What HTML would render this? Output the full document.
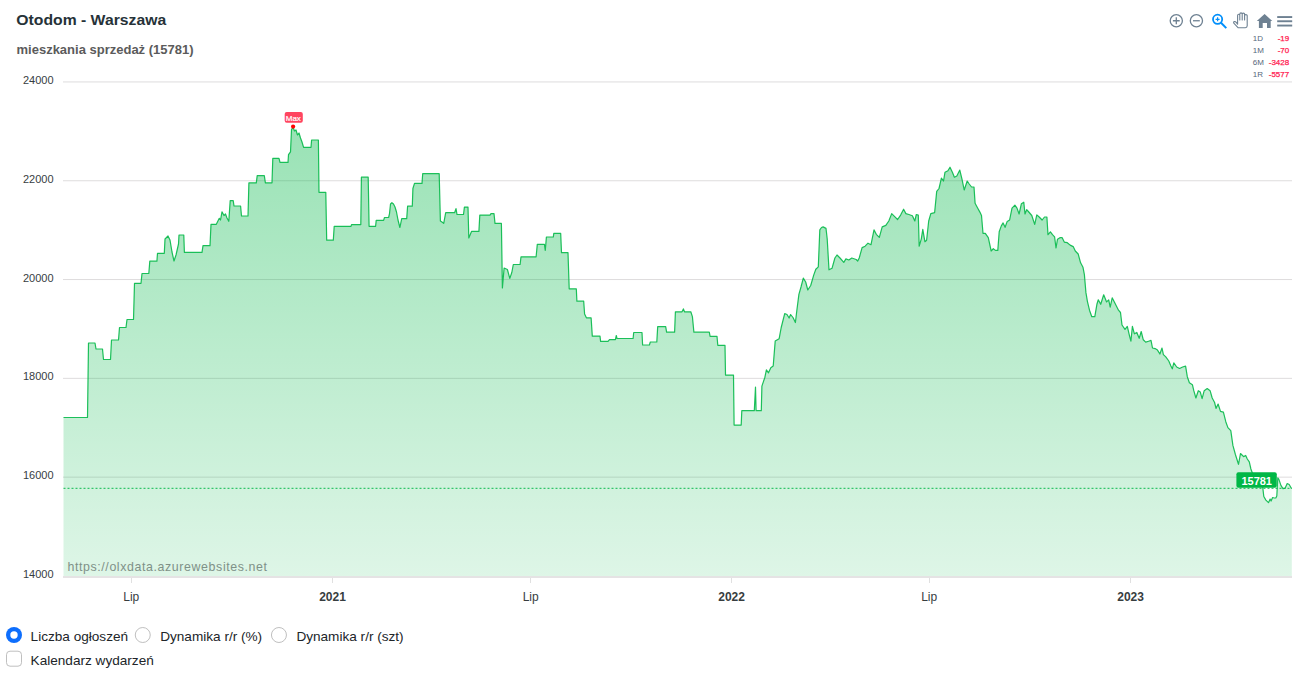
<!DOCTYPE html>
<html><head><meta charset="utf-8">
<style>
html,body{margin:0;padding:0;background:#fff;}
body{width:1306px;height:676px;position:relative;overflow:hidden;font-family:"Liberation Sans",sans-serif;}
svg text{font-family:"Liberation Sans",sans-serif;}
.title{font-size:14px;font-weight:bold;fill:#263238;letter-spacing:0px;}
.sub{font-size:13px;font-weight:bold;fill:#5b5b5b;letter-spacing:0px;}
.yl{font-size:11px;fill:#373d3f;}
.xr{font-size:12px;fill:#373d3f;}
.xb{font-size:12px;font-weight:bold;fill:#373d3f;}
.wm{font-size:12.4px;fill:#7f9188;letter-spacing:0.6px;}
.maxl{font-size:8px;fill:#fff;stroke:#fff;stroke-width:0.2px;}
.lab{font-size:11px;font-weight:bold;fill:#fff;}
.stl{font-size:8px;fill:#56677a;}
.stv{font-size:8px;fill:#ff2050;stroke:#ff2050;stroke-width:0.25px;}
.ctl{font-size:13.6px;fill:#212529;}
</style></head><body>
<svg width="1306" height="620" viewBox="0 0 1306 620" style="position:absolute;left:0;top:0">
<defs>
<linearGradient id="g" x1="0" y1="127" x2="0" y2="576.5" gradientUnits="userSpaceOnUse">
<stop offset="0" stop-color="#00b746" stop-opacity="0.40"/>
<stop offset="1" stop-color="#00b746" stop-opacity="0.13"/>
</linearGradient>
</defs>
<text transform="translate(16.3,25) scale(1.125,1)" class="title">Otodom - Warszawa</text>
<text x="16.5" y="54" class="sub">mieszkania sprzedaż (15781)</text>
<line x1="63" x2="1292" y1="81.95" y2="81.95" stroke="#dedcdd" stroke-width="1"/>
<line x1="63" x2="1292" y1="180.75" y2="180.75" stroke="#dedcdd" stroke-width="1"/>
<line x1="63" x2="1292" y1="279.55" y2="279.55" stroke="#dedcdd" stroke-width="1"/>
<line x1="63" x2="1292" y1="378.35" y2="378.35" stroke="#dedcdd" stroke-width="1"/>
<line x1="63" x2="1292" y1="477.15" y2="477.15" stroke="#dedcdd" stroke-width="1"/>

<path d="M63.5,417.5 L87.5,417.5 L88.5,343.0 L95.0,343.0 L96.0,349.0 L102.5,349.0 L103.5,359.5 L110.5,359.5 L111.5,340.0 L118.5,340.0 L119.5,327.5 L126.0,327.5 L127.0,319.5 L133.5,319.5 L134.5,283.3 L141.0,283.3 L142.0,273.5 L148.8,273.5 L149.8,261.2 L156.9,261.2 L157.5,253.3 L164.3,253.3 L165.0,239.0 L168.0,236.0 L170.0,240.0 L172.0,252.0 L174.0,261.0 L176.0,255.0 L178.5,244.0 L179.0,235.0 L183.8,235.0 L184.4,252.4 L202.0,252.4 L203.0,245.6 L210.0,245.6 L211.0,224.3 L216.3,224.3 L219.3,218.3 L220.5,220.0 L222.0,211.8 L224.0,215.5 L225.5,214.0 L227.0,218.0 L228.8,221.3 L230.2,200.6 L233.2,200.6 L234.0,206.0 L240.6,206.0 L241.5,216.0 L248.0,216.0 L248.9,182.8 L256.3,182.8 L257.2,175.7 L264.3,175.7 L265.4,182.8 L272.0,182.8 L272.8,158.3 L279.0,158.3 L280.0,162.4 L288.0,162.4 L288.5,154.7 L290.5,151.8 L291.5,129.6 L293.0,127.0 L294.5,131.0 L296.0,130.0 L297.5,135.0 L299.0,133.0 L300.5,138.0 L302.0,142.0 L303.6,147.3 L311.0,147.3 L311.6,140.0 L318.4,140.0 L319.0,192.3 L325.8,192.3 L326.7,240.2 L333.3,240.2 L334.2,226.3 L351.0,226.3 L351.5,224.6 L360.8,224.6 L361.4,177.2 L368.2,177.2 L369.1,226.3 L375.6,226.3 L376.2,220.4 L383.6,220.4 L384.5,217.5 L388.6,217.5 L389.5,213.6 L390.5,204.0 L391.9,202.7 L393.5,204.0 L395.0,207.0 L396.5,212.0 L398.0,220.0 L399.9,227.5 L401.7,218.6 L406.7,218.6 L407.6,206.2 L412.3,206.2 L412.9,188.5 L414.5,183.4 L422.0,183.4 L422.7,173.7 L439.2,173.7 L440.4,221.0 L442.0,222.0 L443.7,223.4 L445.7,212.7 L454.6,212.7 L456.0,208.6 L457.0,214.5 L463.5,214.5 L464.4,207.1 L468.0,207.1 L468.8,237.9 L471.5,231.4 L478.9,231.4 L479.8,215.1 L490.0,215.1 L491.0,213.6 L494.0,213.6 L495.0,223.4 L501.4,223.4 L502.4,287.9 L504.1,268.0 L507.4,269.5 L509.8,278.4 L511.8,272.5 L513.3,264.5 L520.1,264.5 L521.0,256.8 L536.1,256.8 L537.3,244.4 L544.4,244.4 L545.3,250.3 L546.4,237.0 L553.3,237.0 L553.8,233.4 L560.7,233.4 L561.5,252.7 L568.0,252.7 L569.2,288.8 L576.3,288.8 L576.9,301.2 L583.7,301.2 L584.6,313.9 L586.4,317.8 L591.1,317.8 L592.3,336.1 L600.0,336.1 L600.6,341.4 L608.0,341.4 L609.5,339.6 L615.4,339.6 L616.3,335.5 L617.0,338.5 L633.1,338.5 L633.7,332.5 L642.0,332.5 L642.6,345.0 L649.4,345.0 L650.3,342.0 L656.8,342.0 L657.7,326.6 L665.7,326.6 L666.6,332.2 L674.6,332.2 L675.4,311.8 L682.0,311.8 L683.4,308.9 L684.5,311.8 L690.8,311.8 L692.4,316.6 L693.9,332.2 L709.3,332.2 L710.1,336.4 L717.0,336.4 L717.8,345.3 L725.0,345.3 L725.5,375.1 L733.5,375.1 L734.1,425.1 L741.2,425.1 L741.8,410.7 L754.3,410.7 L755.5,387.1 L756.1,410.7 L761.3,410.7 L761.9,386.1 L764.9,377.2 L766.4,369.8 L768.5,372.8 L770.8,367.8 L773.2,366.0 L775.2,341.1 L779.1,338.8 L781.2,327.5 L784.7,313.6 L787.0,314.5 L789.1,318.0 L790.6,314.5 L793.0,317.5 L795.4,322.5 L796.8,310.7 L798.9,294.4 L801.0,287.0 L803.3,278.1 L805.7,282.0 L807.8,290.0 L810.7,285.5 L813.7,275.1 L815.8,269.2 L818.3,266.9 L819.8,229.9 L821.5,227.5 L823.1,226.9 L826.0,228.4 L827.2,238.8 L829.0,269.8 L832.0,268.3 L834.9,258.0 L837.0,255.0 L840.0,258.0 L843.8,262.4 L845.9,258.9 L848.8,260.0 L851.8,258.0 L856.2,259.5 L857.7,261.0 L859.2,258.0 L862.1,247.6 L865.1,246.2 L868.0,243.2 L871.0,244.7 L874.0,229.9 L876.3,234.3 L879.3,237.3 L882.2,226.9 L885.8,225.4 L888.8,221.0 L891.7,213.6 L894.7,216.6 L897.6,219.5 L900.6,215.1 L903.6,209.2 L905.9,213.6 L908.9,214.5 L912.4,215.7 L914.8,221.0 L916.3,214.5 L918.3,215.1 L919.2,246.2 L921.3,238.8 L922.8,229.3 L924.9,241.7 L926.6,240.2 L928.7,221.0 L930.8,213.6 L934.6,212.7 L936.7,191.4 L939.0,188.5 L941.4,178.1 L943.5,181.0 L945.0,172.2 L947.9,170.7 L950.0,167.2 L952.4,172.2 L954.4,177.2 L956.8,176.0 L959.8,170.1 L962.1,179.6 L964.2,190.0 L967.2,181.0 L969.2,184.0 L971.6,187.0 L974.0,187.0 L975.1,203.3 L977.5,207.7 L979.9,212.1 L981.5,215.5 L983.0,233.3 L985.3,233.3 L988.3,237.7 L991.2,251.0 L993.3,248.6 L995.4,250.4 L997.8,250.4 L999.2,231.8 L1001.3,225.9 L1003.1,222.9 L1005.1,227.3 L1007.2,221.4 L1009.6,220.0 L1012.0,208.1 L1014.9,205.1 L1017.0,208.1 L1019.1,214.0 L1021.4,203.7 L1023.8,202.2 L1025.0,214.0 L1026.7,209.6 L1028.8,212.0 L1031.8,215.5 L1034.7,224.4 L1036.8,214.9 L1039.2,217.0 L1042.1,220.0 L1044.5,217.0 L1046.9,217.0 L1048.0,234.7 L1050.4,231.8 L1052.5,234.7 L1054.6,236.8 L1056.0,248.0 L1057.5,239.2 L1059.9,237.7 L1062.2,237.7 L1064.3,242.1 L1067.3,242.7 L1070.2,245.1 L1073.2,246.6 L1075.3,251.0 L1078.2,254.0 L1080.6,262.8 L1083.0,267.3 L1084.4,274.7 L1085.9,292.4 L1087.4,301.3 L1089.5,310.2 L1091.8,316.7 L1094.8,316.7 L1096.9,304.3 L1098.3,299.8 L1100.7,304.3 L1103.7,294.8 L1106.6,301.9 L1108.7,299.8 L1110.2,307.2 L1112.2,297.8 L1115.5,304.3 L1118.5,310.2 L1120.5,312.5 L1122.0,325.0 L1125.0,329.4 L1127.3,326.4 L1129.4,335.3 L1130.9,341.2 L1132.4,326.4 L1134.4,333.8 L1136.8,332.4 L1139.2,338.3 L1141.2,331.5 L1143.3,339.8 L1145.7,342.1 L1148.6,341.2 L1151.0,340.4 L1152.5,348.0 L1155.1,348.6 L1157.5,350.1 L1159.9,354.0 L1162.0,348.0 L1163.4,354.6 L1165.8,356.9 L1168.8,361.0 L1170.8,365.8 L1172.3,368.8 L1173.8,362.8 L1176.7,367.0 L1179.6,368.5 L1182.6,367.0 L1185.6,366.1 L1187.3,376.7 L1189.4,382.7 L1192.4,384.7 L1193.8,390.7 L1195.9,398.0 L1198.3,390.7 L1200.3,392.1 L1202.1,398.6 L1204.2,390.7 L1207.2,388.6 L1210.1,390.7 L1212.2,398.0 L1214.6,402.5 L1216.0,408.4 L1218.1,404.0 L1220.5,411.4 L1223.4,412.2 L1225.8,421.7 L1227.9,427.6 L1230.8,430.6 L1232.9,445.4 L1235.4,454.5 L1238.5,464.3 L1240.5,453.5 L1242.0,455.0 L1243.6,456.6 L1245.7,455.5 L1247.3,459.0 L1249.3,461.8 L1250.9,469.0 L1252.1,472.3 L1256.0,478.0 L1260.0,481.0 L1262.0,483.0 L1262.8,487.9 L1263.8,496.5 L1265.9,500.1 L1268.5,502.7 L1270.1,499.0 L1271.1,501.0 L1272.6,497.5 L1274.2,498.0 L1275.8,498.0 L1276.8,496.0 L1277.8,477.8 L1278.9,479.4 L1281.0,485.6 L1283.0,488.7 L1285.1,488.2 L1287.2,483.5 L1289.2,484.5 L1291.3,488.2 L1291.8,488.3 L1291.8,575.95 L63.5,575.95 Z" fill="url(#g)" stroke="none"/>
<rect x="63" y="576" width="1229" height="2" fill="#e5e3e4"/>
<line x1="63.5" x2="1292" y1="488.3" y2="488.3" stroke="#00b746" stroke-width="1.2" stroke-dasharray="2 2" opacity="0.75"/>
<path d="M63.5,417.5 L87.5,417.5 L88.5,343.0 L95.0,343.0 L96.0,349.0 L102.5,349.0 L103.5,359.5 L110.5,359.5 L111.5,340.0 L118.5,340.0 L119.5,327.5 L126.0,327.5 L127.0,319.5 L133.5,319.5 L134.5,283.3 L141.0,283.3 L142.0,273.5 L148.8,273.5 L149.8,261.2 L156.9,261.2 L157.5,253.3 L164.3,253.3 L165.0,239.0 L168.0,236.0 L170.0,240.0 L172.0,252.0 L174.0,261.0 L176.0,255.0 L178.5,244.0 L179.0,235.0 L183.8,235.0 L184.4,252.4 L202.0,252.4 L203.0,245.6 L210.0,245.6 L211.0,224.3 L216.3,224.3 L219.3,218.3 L220.5,220.0 L222.0,211.8 L224.0,215.5 L225.5,214.0 L227.0,218.0 L228.8,221.3 L230.2,200.6 L233.2,200.6 L234.0,206.0 L240.6,206.0 L241.5,216.0 L248.0,216.0 L248.9,182.8 L256.3,182.8 L257.2,175.7 L264.3,175.7 L265.4,182.8 L272.0,182.8 L272.8,158.3 L279.0,158.3 L280.0,162.4 L288.0,162.4 L288.5,154.7 L290.5,151.8 L291.5,129.6 L293.0,127.0 L294.5,131.0 L296.0,130.0 L297.5,135.0 L299.0,133.0 L300.5,138.0 L302.0,142.0 L303.6,147.3 L311.0,147.3 L311.6,140.0 L318.4,140.0 L319.0,192.3 L325.8,192.3 L326.7,240.2 L333.3,240.2 L334.2,226.3 L351.0,226.3 L351.5,224.6 L360.8,224.6 L361.4,177.2 L368.2,177.2 L369.1,226.3 L375.6,226.3 L376.2,220.4 L383.6,220.4 L384.5,217.5 L388.6,217.5 L389.5,213.6 L390.5,204.0 L391.9,202.7 L393.5,204.0 L395.0,207.0 L396.5,212.0 L398.0,220.0 L399.9,227.5 L401.7,218.6 L406.7,218.6 L407.6,206.2 L412.3,206.2 L412.9,188.5 L414.5,183.4 L422.0,183.4 L422.7,173.7 L439.2,173.7 L440.4,221.0 L442.0,222.0 L443.7,223.4 L445.7,212.7 L454.6,212.7 L456.0,208.6 L457.0,214.5 L463.5,214.5 L464.4,207.1 L468.0,207.1 L468.8,237.9 L471.5,231.4 L478.9,231.4 L479.8,215.1 L490.0,215.1 L491.0,213.6 L494.0,213.6 L495.0,223.4 L501.4,223.4 L502.4,287.9 L504.1,268.0 L507.4,269.5 L509.8,278.4 L511.8,272.5 L513.3,264.5 L520.1,264.5 L521.0,256.8 L536.1,256.8 L537.3,244.4 L544.4,244.4 L545.3,250.3 L546.4,237.0 L553.3,237.0 L553.8,233.4 L560.7,233.4 L561.5,252.7 L568.0,252.7 L569.2,288.8 L576.3,288.8 L576.9,301.2 L583.7,301.2 L584.6,313.9 L586.4,317.8 L591.1,317.8 L592.3,336.1 L600.0,336.1 L600.6,341.4 L608.0,341.4 L609.5,339.6 L615.4,339.6 L616.3,335.5 L617.0,338.5 L633.1,338.5 L633.7,332.5 L642.0,332.5 L642.6,345.0 L649.4,345.0 L650.3,342.0 L656.8,342.0 L657.7,326.6 L665.7,326.6 L666.6,332.2 L674.6,332.2 L675.4,311.8 L682.0,311.8 L683.4,308.9 L684.5,311.8 L690.8,311.8 L692.4,316.6 L693.9,332.2 L709.3,332.2 L710.1,336.4 L717.0,336.4 L717.8,345.3 L725.0,345.3 L725.5,375.1 L733.5,375.1 L734.1,425.1 L741.2,425.1 L741.8,410.7 L754.3,410.7 L755.5,387.1 L756.1,410.7 L761.3,410.7 L761.9,386.1 L764.9,377.2 L766.4,369.8 L768.5,372.8 L770.8,367.8 L773.2,366.0 L775.2,341.1 L779.1,338.8 L781.2,327.5 L784.7,313.6 L787.0,314.5 L789.1,318.0 L790.6,314.5 L793.0,317.5 L795.4,322.5 L796.8,310.7 L798.9,294.4 L801.0,287.0 L803.3,278.1 L805.7,282.0 L807.8,290.0 L810.7,285.5 L813.7,275.1 L815.8,269.2 L818.3,266.9 L819.8,229.9 L821.5,227.5 L823.1,226.9 L826.0,228.4 L827.2,238.8 L829.0,269.8 L832.0,268.3 L834.9,258.0 L837.0,255.0 L840.0,258.0 L843.8,262.4 L845.9,258.9 L848.8,260.0 L851.8,258.0 L856.2,259.5 L857.7,261.0 L859.2,258.0 L862.1,247.6 L865.1,246.2 L868.0,243.2 L871.0,244.7 L874.0,229.9 L876.3,234.3 L879.3,237.3 L882.2,226.9 L885.8,225.4 L888.8,221.0 L891.7,213.6 L894.7,216.6 L897.6,219.5 L900.6,215.1 L903.6,209.2 L905.9,213.6 L908.9,214.5 L912.4,215.7 L914.8,221.0 L916.3,214.5 L918.3,215.1 L919.2,246.2 L921.3,238.8 L922.8,229.3 L924.9,241.7 L926.6,240.2 L928.7,221.0 L930.8,213.6 L934.6,212.7 L936.7,191.4 L939.0,188.5 L941.4,178.1 L943.5,181.0 L945.0,172.2 L947.9,170.7 L950.0,167.2 L952.4,172.2 L954.4,177.2 L956.8,176.0 L959.8,170.1 L962.1,179.6 L964.2,190.0 L967.2,181.0 L969.2,184.0 L971.6,187.0 L974.0,187.0 L975.1,203.3 L977.5,207.7 L979.9,212.1 L981.5,215.5 L983.0,233.3 L985.3,233.3 L988.3,237.7 L991.2,251.0 L993.3,248.6 L995.4,250.4 L997.8,250.4 L999.2,231.8 L1001.3,225.9 L1003.1,222.9 L1005.1,227.3 L1007.2,221.4 L1009.6,220.0 L1012.0,208.1 L1014.9,205.1 L1017.0,208.1 L1019.1,214.0 L1021.4,203.7 L1023.8,202.2 L1025.0,214.0 L1026.7,209.6 L1028.8,212.0 L1031.8,215.5 L1034.7,224.4 L1036.8,214.9 L1039.2,217.0 L1042.1,220.0 L1044.5,217.0 L1046.9,217.0 L1048.0,234.7 L1050.4,231.8 L1052.5,234.7 L1054.6,236.8 L1056.0,248.0 L1057.5,239.2 L1059.9,237.7 L1062.2,237.7 L1064.3,242.1 L1067.3,242.7 L1070.2,245.1 L1073.2,246.6 L1075.3,251.0 L1078.2,254.0 L1080.6,262.8 L1083.0,267.3 L1084.4,274.7 L1085.9,292.4 L1087.4,301.3 L1089.5,310.2 L1091.8,316.7 L1094.8,316.7 L1096.9,304.3 L1098.3,299.8 L1100.7,304.3 L1103.7,294.8 L1106.6,301.9 L1108.7,299.8 L1110.2,307.2 L1112.2,297.8 L1115.5,304.3 L1118.5,310.2 L1120.5,312.5 L1122.0,325.0 L1125.0,329.4 L1127.3,326.4 L1129.4,335.3 L1130.9,341.2 L1132.4,326.4 L1134.4,333.8 L1136.8,332.4 L1139.2,338.3 L1141.2,331.5 L1143.3,339.8 L1145.7,342.1 L1148.6,341.2 L1151.0,340.4 L1152.5,348.0 L1155.1,348.6 L1157.5,350.1 L1159.9,354.0 L1162.0,348.0 L1163.4,354.6 L1165.8,356.9 L1168.8,361.0 L1170.8,365.8 L1172.3,368.8 L1173.8,362.8 L1176.7,367.0 L1179.6,368.5 L1182.6,367.0 L1185.6,366.1 L1187.3,376.7 L1189.4,382.7 L1192.4,384.7 L1193.8,390.7 L1195.9,398.0 L1198.3,390.7 L1200.3,392.1 L1202.1,398.6 L1204.2,390.7 L1207.2,388.6 L1210.1,390.7 L1212.2,398.0 L1214.6,402.5 L1216.0,408.4 L1218.1,404.0 L1220.5,411.4 L1223.4,412.2 L1225.8,421.7 L1227.9,427.6 L1230.8,430.6 L1232.9,445.4 L1235.4,454.5 L1238.5,464.3 L1240.5,453.5 L1242.0,455.0 L1243.6,456.6 L1245.7,455.5 L1247.3,459.0 L1249.3,461.8 L1250.9,469.0 L1252.1,472.3 L1256.0,478.0 L1260.0,481.0 L1262.0,483.0 L1262.8,487.9 L1263.8,496.5 L1265.9,500.1 L1268.5,502.7 L1270.1,499.0 L1271.1,501.0 L1272.6,497.5 L1274.2,498.0 L1275.8,498.0 L1276.8,496.0 L1277.8,477.8 L1278.9,479.4 L1281.0,485.6 L1283.0,488.7 L1285.1,488.2 L1287.2,483.5 L1289.2,484.5 L1291.3,488.2 L1291.8,488.3" fill="none" stroke="#00b746" stroke-width="1.2" stroke-linejoin="round" stroke-opacity="0.88"/>
<text x="53.5" y="83.90" text-anchor="end" class="yl">24000</text>
<text x="53.5" y="182.70" text-anchor="end" class="yl">22000</text>
<text x="53.5" y="281.50" text-anchor="end" class="yl">20000</text>
<text x="53.5" y="380.30" text-anchor="end" class="yl">18000</text>
<text x="53.5" y="479.10" text-anchor="end" class="yl">16000</text>
<text x="53.5" y="577.90" text-anchor="end" class="yl">14000</text>

<rect x="131" y="578" width="1" height="5" fill="#e0e0e0"/>
<text x="131.3" y="600.5" text-anchor="middle" class="xr">Lip</text>
<rect x="332" y="578" width="1" height="5" fill="#e0e0e0"/>
<text x="332.5" y="600.5" text-anchor="middle" class="xb">2021</text>
<rect x="530" y="578" width="1" height="5" fill="#e0e0e0"/>
<text x="530.7" y="600.5" text-anchor="middle" class="xr">Lip</text>
<rect x="731" y="578" width="1" height="5" fill="#e0e0e0"/>
<text x="731.6" y="600.5" text-anchor="middle" class="xb">2022</text>
<rect x="929" y="578" width="1" height="5" fill="#e0e0e0"/>
<text x="929.2" y="600.5" text-anchor="middle" class="xr">Lip</text>
<rect x="1130" y="578" width="1" height="5" fill="#e0e0e0"/>
<text x="1130.6" y="600.5" text-anchor="middle" class="xb">2023</text>

<text x="67.4" y="571" class="wm">https://olxdata.azurewebsites.net</text>
<rect x="284.7" y="112" width="18.1" height="10.7" rx="2" fill="#ff4560"/>
<text x="293.3" y="120.8" text-anchor="middle" class="maxl">Max</text>
<circle cx="293.1" cy="126.6" r="2.1" fill="#ff0000"/>
<rect x="1236.4" y="472.2" width="40.4" height="15.6" rx="2" fill="#00b746"/>
<text x="1256.7" y="484.8" text-anchor="middle" class="lab">15781</text>
<!-- toolbar -->
<g fill="none" stroke="#6e8192" stroke-width="1.3">
<circle cx="1176.3" cy="20.75" r="6.1"/>
<path d="M1172.9,20.75 H1179.7 M1176.3,17.35 V24.15"/>
<circle cx="1196.4" cy="20.75" r="6.1"/>
<path d="M1193,20.75 H1199.8"/>
</g>
<g fill="none" stroke="#008ffb" stroke-width="1.8">
<circle cx="1217.6" cy="19.3" r="4.6"/>
<path d="M1221,22.8 L1226.3,28.1" stroke-width="2"/>
<path d="M1215.6,19.3 H1219.6 M1217.6,17.3 V21.3" stroke-width="1.2"/>
</g>
<g fill="#6e8192">
<path d="M1264.6,13.9 L1272.3,21 H1270.7 V27.9 H1267 V23 H1262.7 V27.9 H1258.9 V21 H1256.8 Z"/>
<rect x="1277.2" y="16.1" width="15" height="1.9"/>
<rect x="1277.2" y="20.3" width="15" height="1.9"/>
<rect x="1277.2" y="24.6" width="15" height="1.9"/>
</g>
<path d="M1238,27.7 L1233.8,23.2 Q1233.2,22 1234.4,21.6 Q1235.4,21.4 1236.2,22.4 L1237.6,24.2 V15.4 Q1237.6,14.3 1238.7,14.3 Q1239.8,14.3 1239.8,15.4 V20 V13.9 Q1239.8,12.9 1241,12.9 Q1242.2,12.9 1242.2,13.9 V20 V14.1 Q1242.2,13.1 1243.4,13.1 Q1244.6,13.1 1244.6,14.1 V20 V15.6 Q1244.6,14.6 1245.9,14.6 Q1247.2,14.6 1247.2,15.6 V25.8 Q1247.2,27.7 1245.4,27.7 Z" fill="#fff" stroke="#6e8192" stroke-width="1.1" stroke-linejoin="round"/>
<!-- stats -->
<g class="st">
<text x="1252.7" y="40.8" class="stl">1D</text><text x="1289.2" y="40.8" text-anchor="end" class="stv">-19</text>
<text x="1252.7" y="52.9" class="stl">1M</text><text x="1289.2" y="52.9" text-anchor="end" class="stv">-70</text>
<text x="1252.7" y="64.8" class="stl">6M</text><text x="1289.2" y="64.8" text-anchor="end" class="stv">-3428</text>
<text x="1252.7" y="76.7" class="stl">1R</text><text x="1289.2" y="76.7" text-anchor="end" class="stv">-5577</text>
</g>
</svg>
<svg width="1306" height="60" viewBox="0 616 1306 60" style="position:absolute;left:0;top:616px">
<circle cx="14" cy="635" r="8" fill="#0d6efd"/>
<circle cx="14" cy="635" r="3.7" fill="#fff"/>
<circle cx="142.75" cy="635" r="7.5" fill="#fff" stroke="#bfbfbf" stroke-width="1"/>
<circle cx="278.95" cy="635" r="7.5" fill="#fff" stroke="#bfbfbf" stroke-width="1"/>
<rect x="6.5" y="651.2" width="15" height="15" rx="3.5" fill="#fff" stroke="#bfbfbf" stroke-width="1"/>
<text x="30.6" y="641" class="ctl">Liczba ogłoszeń</text>
<text x="160.2" y="641" class="ctl">Dynamika r/r (%)</text>
<text x="296.4" y="641" class="ctl">Dynamika r/r (szt)</text>
<text x="30.6" y="665" class="ctl">Kalendarz wydarzeń</text>
</svg>
</body></html>
